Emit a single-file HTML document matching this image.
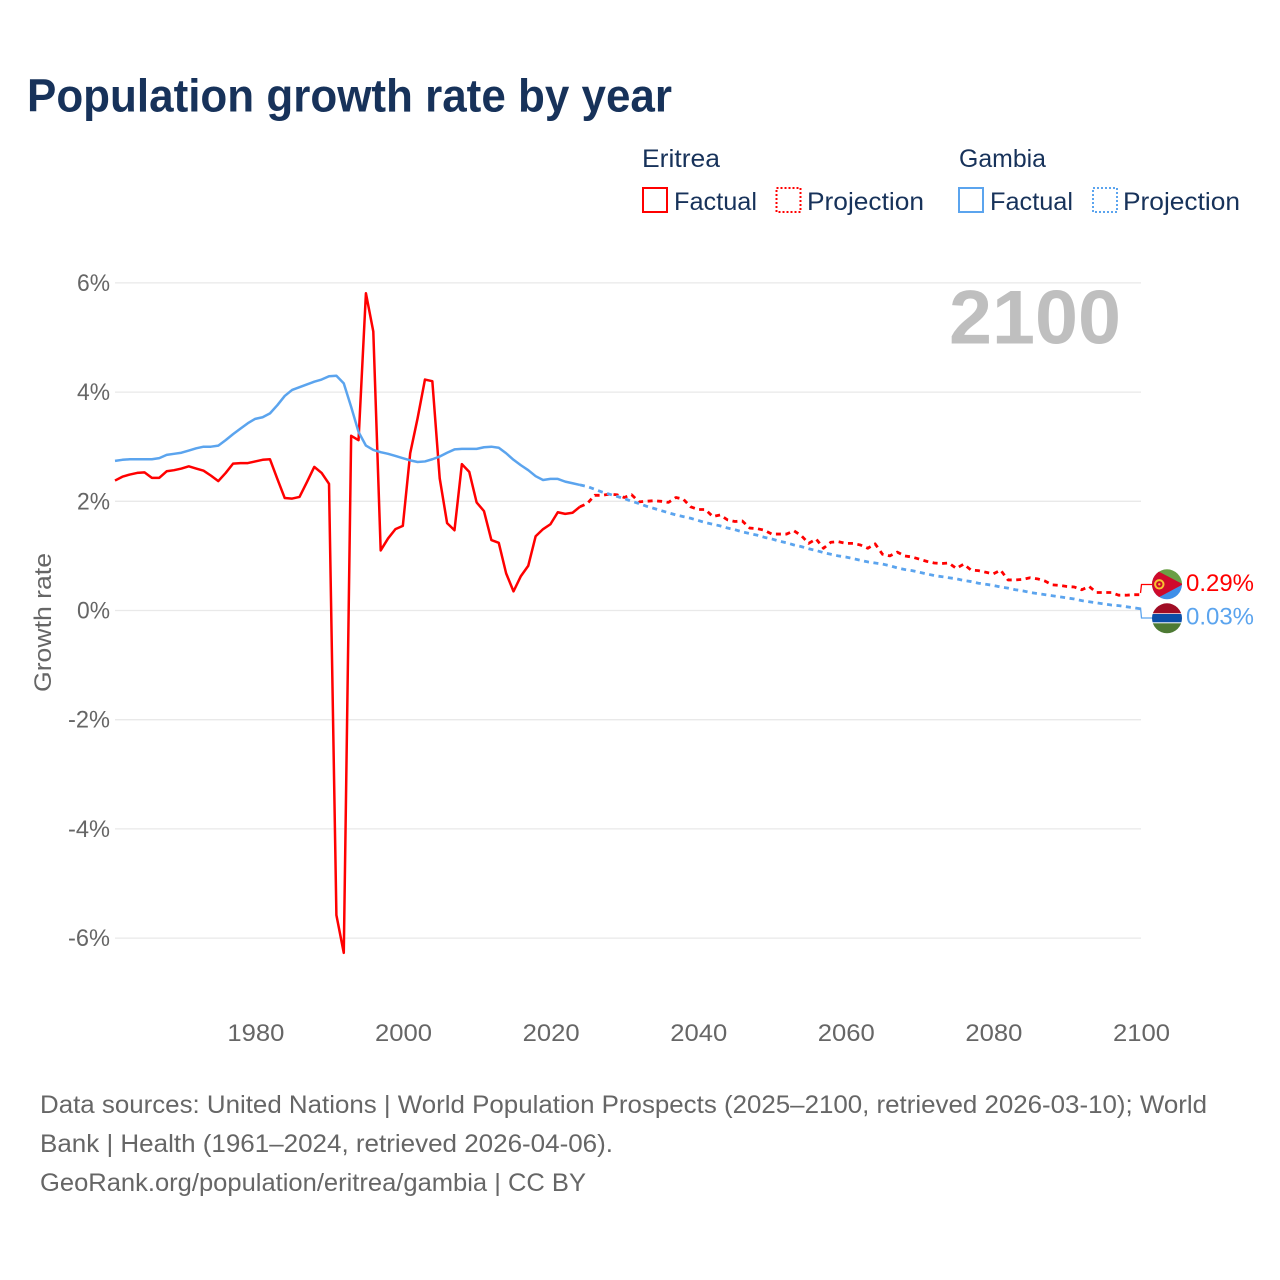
<!DOCTYPE html>
<html lang="en">
<head>
<meta charset="utf-8">
<title>Population growth rate by year</title>
<style>
html,body{margin:0;padding:0;background:#fff;}
svg{display:block;font-family:"Liberation Sans",sans-serif;}
</style>
</head>
<body>
<svg id="chart" width="1280" height="1280" viewBox="0 0 1280 1280" xmlns="http://www.w3.org/2000/svg">
<defs>
<clipPath id="c1"><circle cx="1167" cy="584.3" r="15"/></clipPath>
<clipPath id="c2"><circle cx="1167" cy="618.3" r="15"/></clipPath>
</defs>
<text x="27" y="111.5" font-size="46" font-weight="700" fill="#17325a" textLength="645" lengthAdjust="spacingAndGlyphs">Population growth rate by year</text>

<g font-size="25" fill="#17325a">
<text x="642" y="167" textLength="78" lengthAdjust="spacingAndGlyphs">Eritrea</text>
<text x="959" y="167" textLength="87" lengthAdjust="spacingAndGlyphs">Gambia</text>
<rect x="643" y="188" width="24" height="24" fill="none" stroke="#ff0000" stroke-width="2"/>
<text x="674" y="210" textLength="83" lengthAdjust="spacingAndGlyphs">Factual</text>
<rect x="776.5" y="188" width="24" height="24" fill="none" stroke="#ff0000" stroke-width="2" stroke-dasharray="2 2"/>
<text x="807" y="210" textLength="117" lengthAdjust="spacingAndGlyphs">Projection</text>
<rect x="959" y="188" width="24" height="24" fill="none" stroke="#5ba4ee" stroke-width="2"/>
<text x="990" y="210" textLength="83" lengthAdjust="spacingAndGlyphs">Factual</text>
<rect x="1093" y="188" width="24" height="24" fill="none" stroke="#5ba4ee" stroke-width="2" stroke-dasharray="2 2"/>
<text x="1123" y="210" textLength="117" lengthAdjust="spacingAndGlyphs">Projection</text>
</g>

<g id="grid"></g>
<g id="yticks" font-size="24" fill="#666"></g>
<g id="xticks" font-size="24" fill="#666"></g>

<text transform="translate(51,692) rotate(-90)" font-size="24" fill="#666" textLength="139" lengthAdjust="spacingAndGlyphs">Growth rate</text>

<text x="949" y="343.5" font-size="76" font-weight="700" fill="#bfbfbf" textLength="172" lengthAdjust="spacingAndGlyphs">2100</text>

<g id="series"></g>

<g>
<path d="M1140.5 593 L1141.5 584.5 L1152 584.5" fill="none" stroke="#ff0000" stroke-width="1.3"/>
<path d="M1140.5 607.5 L1141.5 618 L1152 618" fill="none" stroke="#5ba4ee" stroke-width="1.3"/>
<g clip-path="url(#c1)">
<rect x="1152" y="569" width="30" height="16" fill="#6a9f45"/>
<rect x="1152" y="584" width="30" height="16" fill="#3f8fe8"/>
<polygon points="1150,567 1183,584.3 1150,602" fill="#cf0a2c"/>
<circle cx="1159.3" cy="584.3" r="4.2" fill="none" stroke="#f7c531" stroke-width="2"/>
<circle cx="1159.3" cy="584.3" r="1.2" fill="#f7c531"/>
</g>
<g clip-path="url(#c2)">
<rect x="1152" y="603" width="30" height="31" fill="#fff"/>
<rect x="1152" y="603" width="30" height="10.3" fill="#a00d25"/>
<rect x="1152" y="614" width="30" height="8.3" fill="#0c4fa8"/>
<rect x="1152" y="623.3" width="30" height="11" fill="#4d7a34"/>
</g>
<text x="1186" y="591" font-size="24" fill="#ff0000" textLength="68" lengthAdjust="spacingAndGlyphs">0.29%</text>
<text x="1186" y="624.5" font-size="24" fill="#5ba4ee" textLength="68" lengthAdjust="spacingAndGlyphs">0.03%</text>
</g>

<g font-size="25" fill="#666">
<text x="40" y="1113" textLength="1167" lengthAdjust="spacingAndGlyphs">Data sources: United Nations | World Population Prospects (2025–2100, retrieved 2026-03-10); World</text>
<text x="40" y="1152" textLength="573" lengthAdjust="spacingAndGlyphs">Bank | Health (1961–2024, retrieved 2026-04-06).</text>
<text x="40" y="1191" textLength="546" lengthAdjust="spacingAndGlyphs">GeoRank.org/population/eritrea/gambia | CC BY</text>
</g>
</svg>
<script>
const firstYear = 1961;
const lastFactualYear = 2024;
const yTicks = [6, 4, 2, 0, -2, -4, -6];
const xTicks = [1980, 2000, 2020, 2040, 2060, 2080, 2100];

// Eritrea, percent, 1961 to 2024
const eritreaFactual = [2.38,2.45,2.49,2.52,2.53,2.43,2.43,2.55,2.57,2.60,2.64,2.60,2.56,2.47,2.37,2.52,2.69,2.70,2.70,2.73,2.76,2.77,2.41,2.06,2.05,2.08,2.35,2.63,2.52,2.32,-5.58,-6.27,3.20,3.12,5.81,5.11,1.10,1.32,1.49,1.55,2.88,3.52,4.23,4.20,2.42,1.60,1.47,2.68,2.54,1.98,1.82,1.29,1.24,0.68,0.35,0.63,0.82,1.36,1.49,1.58,1.80,1.77,1.79,1.90];
// Eritrea, percent, 2025 to 2100
const eritreaProjection = [1.96,2.11,2.11,2.13,2.12,2.07,2.12,1.99,2.00,2.01,2.00,1.98,2.07,2.04,1.90,1.85,1.85,1.72,1.75,1.66,1.63,1.64,1.51,1.50,1.47,1.40,1.40,1.40,1.46,1.37,1.23,1.31,1.14,1.25,1.26,1.23,1.23,1.20,1.14,1.22,1.03,1.00,1.07,1.00,0.98,0.94,0.90,0.87,0.86,0.87,0.77,0.85,0.74,0.73,0.70,0.67,0.74,0.56,0.56,0.57,0.60,0.58,0.54,0.47,0.46,0.44,0.43,0.38,0.44,0.33,0.33,0.33,0.28,0.28,0.29,0.29];
// Gambia, percent, 1961 to 2024
const gambiaFactual = [2.74,2.76,2.77,2.77,2.77,2.77,2.79,2.85,2.87,2.89,2.93,2.97,3.00,3.00,3.02,3.12,3.23,3.33,3.43,3.51,3.54,3.61,3.76,3.93,4.04,4.09,4.14,4.19,4.23,4.29,4.30,4.16,3.73,3.27,3.02,2.94,2.90,2.87,2.83,2.79,2.75,2.72,2.73,2.77,2.82,2.89,2.95,2.96,2.96,2.96,2.99,3.00,2.98,2.88,2.76,2.66,2.57,2.46,2.39,2.41,2.41,2.36,2.33,2.30];
// Gambia, percent, 2025 to 2100
const gambiaProjection = [2.27,2.22,2.17,2.13,2.09,2.05,2.00,1.96,1.91,1.87,1.83,1.79,1.75,1.72,1.69,1.65,1.61,1.58,1.55,1.51,1.48,1.44,1.41,1.38,1.34,1.31,1.27,1.24,1.20,1.17,1.13,1.10,1.06,1.03,1.00,0.98,0.95,0.92,0.89,0.87,0.85,0.82,0.78,0.75,0.73,0.70,0.67,0.64,0.62,0.60,0.58,0.55,0.53,0.50,0.48,0.46,0.43,0.41,0.38,0.36,0.33,0.31,0.29,0.27,0.25,0.23,0.21,0.18,0.16,0.14,0.12,0.10,0.09,0.07,0.05,0.03];

const colorEritrea = '#ff0000';
const colorGambia = '#5ba4ee';
const svgNS = 'http://www.w3.org/2000/svg';

function xScale(year) { return 115 + (year - firstYear) * 7.38; }
function yScale(v) { return 610.5 - v * 54.6; }

function linePath(startYear, values) {
  let d = '';
  for (let i = 0; i < values.length; i++) {
    d += (i ? 'L' : 'M') + xScale(startYear + i).toFixed(2) + ' ' + yScale(values[i]).toFixed(2);
  }
  return d;
}

const gridGroup = document.getElementById('grid');
const yGroup = document.getElementById('yticks');
yTicks.forEach(function (t) {
  const ln = document.createElementNS(svgNS, 'line');
  
  
  ln.setAttribute('x1', 115);
  ln.setAttribute('x2', 1141);
  ln.setAttribute('y1', yScale(t));
  ln.setAttribute('y2', yScale(t));
  ln.setAttribute('stroke', '#e9e9e9');
  ln.setAttribute('stroke-width', 1.3);
  gridGroup.appendChild(ln);
  const tx = document.createElementNS(svgNS, 'text');
  
  
  tx.setAttribute('x', 68 + (t < 0 ? 0 : 9));
  tx.setAttribute('y', yScale(t) + 8);
  tx.setAttribute('textLength', t < 0 ? 42 : 33);
  tx.setAttribute('lengthAdjust', 'spacingAndGlyphs');
  tx.textContent = t + '%';
  yGroup.appendChild(tx);
});

const xGroup = document.getElementById('xticks');
xTicks.forEach(function (t) {
  const tx = document.createElementNS(svgNS, 'text');
  
  
  tx.setAttribute('x', xScale(t) - 27.8);
  tx.setAttribute('y', 1041);
  tx.setAttribute('textLength', 57);
  tx.setAttribute('lengthAdjust', 'spacingAndGlyphs');
  tx.textContent = String(t);
  xGroup.appendChild(tx);
});

const seriesGroup = document.getElementById('series');
function addLine(name, d, color, dashed) {
  const p = document.createElementNS(svgNS, 'path');
  
  
  p.setAttribute('d', d);
  p.setAttribute('fill', 'none');
  p.setAttribute('stroke', color);
  p.setAttribute('stroke-width', dashed ? 2.8 : 2.5);
  p.setAttribute('stroke-linejoin', 'round');
  if (dashed) p.setAttribute('stroke-dasharray', '5 4.5');
  seriesGroup.appendChild(p);
}
const lastE = eritreaFactual[eritreaFactual.length - 1];
const lastG = gambiaFactual[gambiaFactual.length - 1];
addLine('eritrea-factual-line', linePath(firstYear, eritreaFactual), colorEritrea, false);
addLine('eritrea-projection-line', linePath(lastFactualYear, [lastE].concat(eritreaProjection)), colorEritrea, true);
addLine('gambia-factual-line', linePath(firstYear, gambiaFactual), colorGambia, false);
addLine('gambia-projection-line', linePath(lastFactualYear, [lastG].concat(gambiaProjection)), colorGambia, true);
</script>
</body>
</html>
